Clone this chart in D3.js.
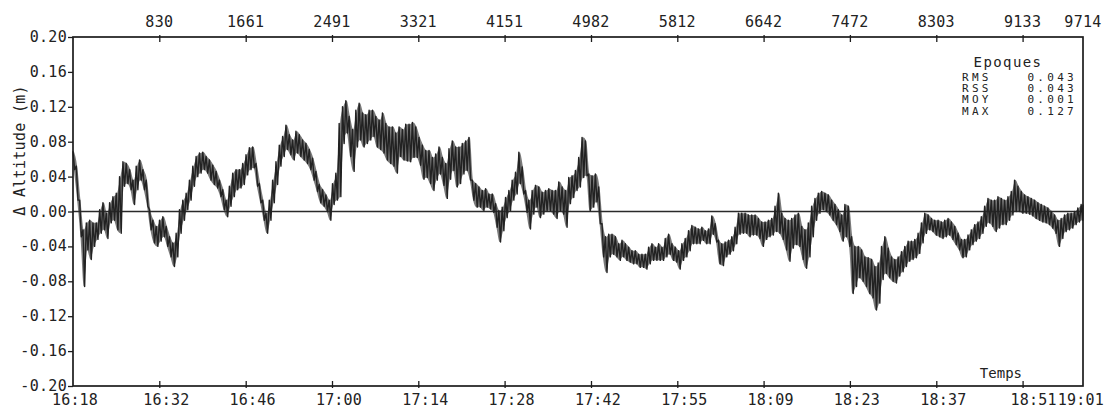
<!DOCTYPE html>
<html>
<head>
<meta charset="utf-8">
<script src="https://cdn.jsdelivr.net/npm/d3@7"></script>
<style>
  html, body { margin: 0; padding: 0; background: #fff; }
  svg { display: block; }
  .lbl { font-family: "DejaVu Sans Mono", "Liberation Mono", monospace; fill: #222; }
</style>
</head>
<body>
<svg id="chart" width="1105" height="408"></svg>
<script>
// Altitude difference per epoch, decimated into bins of 32 epochs:
// upper and lower value reached inside each bin (m).
const binEpochs = 32;
const totalEpochs = 9714;

const binHigh = [
  0.069, 0.052, 0.013, -0.021, -0.013, -0.010, -0.013, -0.013, 0.002, 0.010,
  -0.002, 0.010, 0.017, 0.021, 0.040, 0.057, 0.055, 0.048, 0.036, 0.052,
  0.059, 0.048, 0.036, 0.002, -0.010, -0.017, -0.010, -0.006, -0.017, -0.029,
  -0.036, -0.025, 0.002, 0.013, 0.021, 0.036, 0.052, 0.063, 0.067, 0.068,
  0.063, 0.059, 0.053, 0.046, 0.036, 0.025, 0.013, 0.029, 0.044, 0.048,
  0.048, 0.055, 0.065, 0.073, 0.074, 0.055, 0.032, 0.013, -0.002, 0.013,
  0.036, 0.057, 0.076, 0.086, 0.099, 0.088, 0.082, 0.092, 0.088, 0.082,
  0.078, 0.071, 0.061, 0.046, 0.031, 0.025, 0.019, 0.013, 0.032, 0.044,
  0.101, 0.120, 0.127, 0.109, 0.094, 0.116, 0.124, 0.113, 0.111, 0.116,
  0.116, 0.109, 0.105, 0.113, 0.101, 0.097, 0.097, 0.090, 0.097, 0.094,
  0.100, 0.100, 0.102, 0.097, 0.085, 0.076, 0.070, 0.070, 0.062, 0.066,
  0.074, 0.062, 0.055, 0.072, 0.081, 0.074, 0.074, 0.078, 0.081, 0.085,
  0.036, 0.032, 0.028, 0.024, 0.026, 0.020, 0.020, 0.009, 0.001, 0.005,
  0.016, 0.024, 0.036, 0.045, 0.068, 0.051, 0.024, 0.013, 0.024, 0.030,
  0.028, 0.022, 0.024, 0.026, 0.024, 0.024, 0.034, 0.028, 0.024, 0.039,
  0.041, 0.047, 0.062, 0.085, 0.081, 0.043, 0.041, 0.043, 0.028, -0.014,
  -0.029, -0.026, -0.026, -0.029, -0.037, -0.033, -0.037, -0.041, -0.045, -0.045,
  -0.049, -0.049, -0.049, -0.041, -0.037, -0.041, -0.037, -0.041, -0.031, -0.026,
  -0.037, -0.041, -0.045, -0.037, -0.031, -0.022, -0.016, -0.018, -0.020, -0.018,
  -0.022, -0.020, -0.005, -0.014, -0.033, -0.037, -0.035, -0.033, -0.029, -0.018,
  -0.002, -0.002, -0.002, -0.004, -0.004, -0.004, -0.008, -0.012, -0.012, -0.010,
  -0.008, 0.006, 0.021, -0.002, -0.008, -0.010, -0.008, -0.004, -0.002, -0.017,
  -0.021, -0.013, 0.006, 0.015, 0.021, 0.023, 0.021, 0.019, 0.013, 0.008,
  0.002, -0.004, 0.008, 0.006, -0.029, -0.040, -0.040, -0.044, -0.052, -0.053,
  -0.055, -0.063, -0.059, -0.040, -0.029, -0.042, -0.052, -0.055, -0.052, -0.046,
  -0.040, -0.034, -0.034, -0.032, -0.025, -0.013, -0.002, -0.004, -0.008, -0.010,
  -0.010, -0.012, -0.010, -0.008, -0.012, -0.017, -0.025, -0.032, -0.032, -0.027,
  -0.021, -0.015, -0.012, -0.006, 0.006, 0.015, 0.013, 0.013, 0.017, 0.015,
  0.013, 0.017, 0.023, 0.036, 0.029, 0.023, 0.019, 0.017, 0.015, 0.013,
  0.010, 0.008, 0.006, 0.004, 0.000, -0.004, -0.010, -0.008, -0.004, -0.002,
  -0.002, 0.000, 0.004, 0.008
];

const binLow = [
  0.048, 0.013, -0.029, -0.086, -0.044, -0.055, -0.040, -0.032, -0.025, -0.021,
  -0.031, -0.013, -0.010, -0.021, -0.025, 0.029, 0.032, 0.025, 0.008, 0.025,
  0.036, 0.025, 0.006, -0.021, -0.036, -0.040, -0.034, -0.029, -0.040, -0.052,
  -0.063, -0.052, -0.025, -0.010, 0.002, 0.013, 0.029, 0.040, 0.044, 0.048,
  0.044, 0.036, 0.031, 0.027, 0.017, 0.002, -0.006, 0.006, 0.017, 0.025,
  0.027, 0.031, 0.042, 0.048, 0.050, 0.029, 0.010, -0.010, -0.025, -0.010,
  0.010, 0.031, 0.052, 0.063, 0.071, 0.065, 0.059, 0.067, 0.063, 0.059,
  0.055, 0.048, 0.036, 0.023, 0.010, 0.006, 0.000, -0.010, 0.008, 0.013,
  0.017, 0.078, 0.090, 0.063, 0.046, 0.074, 0.082, 0.074, 0.078, 0.082,
  0.086, 0.074, 0.071, 0.067, 0.059, 0.055, 0.052, 0.044, 0.063, 0.059,
  0.058, 0.057, 0.062, 0.062, 0.053, 0.037, 0.039, 0.032, 0.024, 0.036,
  0.043, 0.030, 0.015, 0.037, 0.047, 0.028, 0.032, 0.043, 0.047, 0.036,
  0.013, 0.005, 0.005, 0.001, 0.005, 0.003, -0.001, -0.018, -0.035, -0.022,
  -0.007, 0.001, 0.013, 0.020, 0.032, 0.020, -0.001, -0.020, -0.003, 0.005,
  -0.007, -0.003, 0.001, 0.001, -0.003, -0.008, 0.001, -0.003, -0.018, 0.009,
  0.016, 0.024, 0.028, 0.039, 0.041, 0.001, 0.005, 0.011, -0.014, -0.052,
  -0.070, -0.052, -0.049, -0.052, -0.056, -0.052, -0.056, -0.058, -0.060, -0.060,
  -0.064, -0.064, -0.066, -0.060, -0.056, -0.056, -0.056, -0.056, -0.052, -0.049,
  -0.056, -0.058, -0.066, -0.056, -0.052, -0.045, -0.037, -0.037, -0.037, -0.033,
  -0.037, -0.037, -0.026, -0.035, -0.060, -0.062, -0.052, -0.049, -0.045, -0.037,
  -0.026, -0.025, -0.025, -0.029, -0.027, -0.027, -0.031, -0.040, -0.032, -0.029,
  -0.027, -0.023, -0.025, -0.032, -0.044, -0.057, -0.042, -0.038, -0.040, -0.055,
  -0.065, -0.052, -0.029, -0.010, -0.002, 0.002, 0.000, -0.004, -0.010, -0.015,
  -0.023, -0.034, -0.029, -0.040, -0.094, -0.086, -0.076, -0.080, -0.086, -0.094,
  -0.099, -0.113, -0.105, -0.078, -0.071, -0.076, -0.080, -0.082, -0.074, -0.069,
  -0.063, -0.057, -0.055, -0.053, -0.048, -0.036, -0.025, -0.021, -0.023, -0.027,
  -0.029, -0.031, -0.029, -0.027, -0.032, -0.038, -0.044, -0.053, -0.052, -0.044,
  -0.038, -0.034, -0.031, -0.025, -0.017, -0.013, -0.017, -0.023, -0.019, -0.015,
  -0.015, -0.010, -0.004, 0.000, 0.000, -0.002, -0.002, -0.003, -0.005, -0.008,
  -0.010, -0.012, -0.013, -0.015, -0.019, -0.025, -0.040, -0.031, -0.023, -0.021,
  -0.019, -0.015, -0.012, -0.010
];

// Axis graduations
const yTicks = [-0.20, -0.16, -0.12, -0.08, -0.04, 0.00, 0.04, 0.08, 0.12, 0.16, 0.20];
const epochTicks = [830, 1661, 2491, 3321, 4151, 4982, 5812, 6642, 7472, 8303, 9133];
const epochLabelPos = [830, 1661, 2491, 3321, 4151, 4982, 5812, 6642, 7472, 8303, 9133, 9714];
const timeLabelPos = [0, 830, 1661, 2491, 3321, 4151, 4982, 5812, 6642, 7472, 8303, 9133, 9714];
const timeLabels = ["16:18", "16:32", "16:46", "17:00", "17:14", "17:28", "17:42",
                    "17:55", "18:09", "18:23", "18:37", "18:51", "19:01"];

// Statistics box
const statTitle = "Epoques";
const statNames = ["RMS", "RSS", "MOY", "MAX"];
const statValues = [0.043, 0.043, 0.001, 0.127];

const svg = d3.select("#chart");
const L = 73, R = 1083, T = 37, B = 386;

const x = d3.scaleLinear().domain([0, totalEpochs]).range([L, R]);
const y = d3.scaleLinear().domain([-0.20, 0.20]).range([B, T]);

const ink = "#1c1c1c";

// Trace: min/max of every bin, joined as a zigzag
const pts = [];
binHigh.forEach((h, i) => {
  pts.push([i * binEpochs, h]);
  pts.push([i * binEpochs + binEpochs / 2, binLow[i]]);
});
pts.push([totalEpochs, binHigh[binHigh.length - 1]]);

const line = d3.line().x(d => x(d[0])).y(d => y(d[1]));

// band between bin extremes, shaded under the zigzag
const band = d3.area()
  .x((d, i) => x(i * binEpochs + binEpochs / 4))
  .y0((d, i) => y(binLow[i]))
  .y1(d => y(d))
  .curve(d3.curveMonotoneX);

// zero line
svg.append("line")
  .attr("x1", x(0)).attr("x2", x(totalEpochs))
  .attr("y1", y(0)).attr("y2", y(0))
  .attr("stroke", "#2a2a2a").attr("stroke-width", 1.6);

svg.append("path")
  .datum(binHigh)
  .attr("d", band)
  .attr("fill", "#333")
  .attr("fill-opacity", 0.65);

svg.append("path")
  .datum(pts)
  .attr("d", line)
  .attr("fill", "none")
  .attr("stroke", "#222")
  .attr("stroke-width", 1.4)
  .attr("stroke-linejoin", "round");

// Left axis
const gy = svg.append("g").attr("transform", `translate(${L},0)`)
  .call(d3.axisLeft(y).tickValues(yTicks).tickSize(5).tickPadding(1)
    .tickFormat(d => d3.format(".2f")(d).replace("−", "-")));
gy.select(".domain").remove();
gy.selectAll(".tick line").attr("stroke", ink).attr("stroke-width", 1.3);
gy.selectAll(".tick text").attr("class", "lbl").attr("font-size", 15)
  .attr("letter-spacing", 0.3).attr("dy", "0.3em");

// Top axis (epoch numbers)
const gt = svg.append("g").attr("transform", `translate(0,${T})`)
  .call(d3.axisTop(x).tickValues(epochTicks).tickSize(-5).tickFormat(""));
gt.select(".domain").remove();
gt.selectAll(".tick line").attr("stroke", ink).attr("stroke-width", 1.3).attr("y1", -2);
svg.append("g").selectAll("text").data(epochLabelPos).join("text")
  .attr("class", "lbl").attr("font-size", 15).attr("letter-spacing", 0.3)
  .attr("text-anchor", "middle")
  .attr("x", d => x(d)).attr("y", T - 10)
  .text(d => d);

// Bottom axis (clock time)
const gb = svg.append("g").attr("transform", `translate(0,${B})`)
  .call(d3.axisBottom(x).tickValues(epochTicks).tickSize(-5).tickFormat(""));
gb.select(".domain").remove();
gb.selectAll(".tick line").attr("stroke", ink).attr("stroke-width", 1.3).attr("y1", 2);
const lastT = timeLabels.length - 1;
svg.append("g").selectAll("text").data(timeLabels).join("text")
  .attr("class", "lbl").attr("font-size", 15).attr("letter-spacing", 0.2)
  .attr("text-anchor", (d, i) => i === lastT ? "end" : "middle")
  .attr("x", (d, i) => i === lastT ? 1104 : x(timeLabelPos[i]) + (i === 0 ? 2 : (i === lastT - 1 ? 11 : 7)))
  .attr("y", B + 19)
  .text(d => d);

// Frame
svg.append("rect")
  .attr("x", L).attr("y", T).attr("width", R - L).attr("height", B - T)
  .attr("fill", "none").attr("stroke", ink).attr("stroke-width", 1.7);

// Axis titles
svg.append("text").attr("class", "lbl").attr("font-size", 15).attr("letter-spacing", 0.3)
  .attr("text-anchor", "middle")
  .attr("transform", `translate(25,${y(0.07)}) rotate(-90)`)
  .text("Δ Altitude (m)");

svg.append("text").attr("class", "lbl")
  .attr("font-family", "'DejaVu Sans', sans-serif")
  .attr("font-size", 14).attr("text-anchor", "end")
  .attr("x", 1022).attr("y", 378)
  .text("Temps");

// Statistics
svg.append("text").attr("class", "lbl")
  .attr("font-family", "'DejaVu Sans', sans-serif")
  .attr("font-size", 14).attr("letter-spacing", 1.4).attr("text-anchor", "middle")
  .attr("x", 1008).attr("y", 67)
  .text(statTitle);

const rows = svg.append("g").selectAll("g").data(statNames).join("g")
  .attr("transform", (d, i) => `translate(0,${81 + i * 11.2})`);
rows.append("text").attr("class", "lbl").attr("font-size", 11).attr("letter-spacing", 3.3)
  .attr("x", 962).attr("y", 0).text(d => d);
rows.append("text").attr("class", "lbl").attr("font-size", 11).attr("letter-spacing", 3.3)
  .attr("text-anchor", "end").attr("x", 1077).attr("y", 0)
  .text((d, i) => d3.format(".3f")(statValues[i]));
</script>
</body>
</html>
